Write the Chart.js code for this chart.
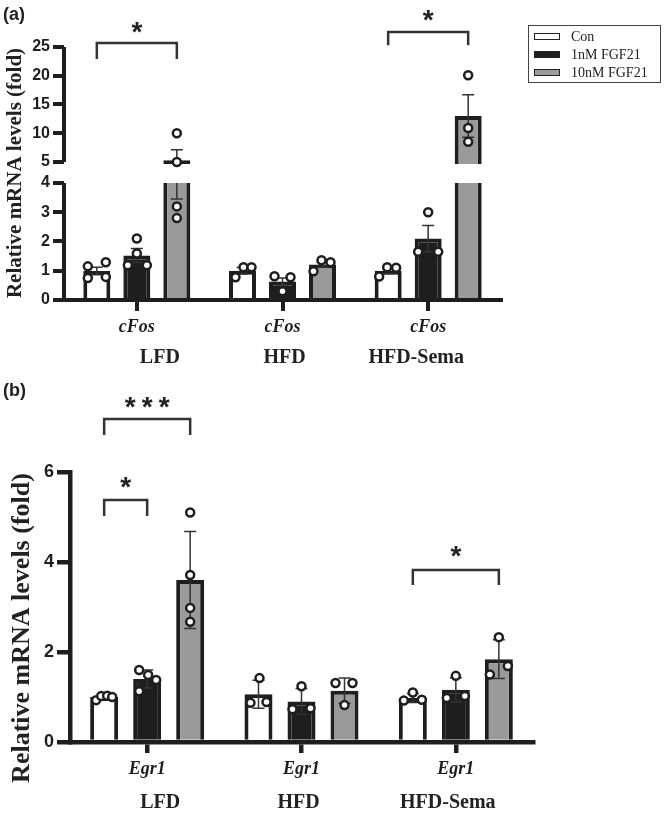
<!DOCTYPE html>
<html lang="en">
<head>
<meta charset="UTF-8">
<title>cFos / Egr1 mRNA levels</title>
<script src="https://cdn.jsdelivr.net/npm/chart.js@4.4.1/dist/chart.umd.min.js"></script>
<style>
  body { margin: 0; background: #fff; }
  .panel { position: absolute; left: 0; width: 664px; }
  #panelA { top: 0; height: 380px; }
  #panelB { top: 380px; height: 437px; }
  #legend {
    position: absolute; left: 528px; top: 25px; width: 133px; height: 58px;
    box-sizing: border-box; border: 1.5px solid #444; padding: 1.5px 0 0 5px;
    font: 14px "Liberation Serif", serif; color: #222;
  }
  #legend .item { height: 18px; display: flex; align-items: center; }
  #legend .sw { width: 26px; height: 7px; box-sizing: border-box; border: 1.3px solid #222; margin-right: 11px; }
</style>
</head>
<body>
<div class="panel" id="panelA"><canvas id="chartA"></canvas></div>
<div class="panel" id="panelB"><canvas id="chartB"></canvas></div>
<div id="legend">
  <div class="item"><span class="sw" style="background:#fff"></span>Con</div>
  <div class="item"><span class="sw" style="background:#1e1e1e"></span>1nM FGF21</div>
  <div class="item"><span class="sw" style="background:#9a9a9a"></span>10nM FGF21</div>
</div>
<script>
// groups and treatments
const groups = ['LFD', 'HFD', 'HFD-Sema'];
const seriesNames = ['Con', '1nM FGF21', '10nM FGF21'];

// (a) cFos, mean +/- SEM
const cfosCon = [0.99, 1.0, 1.0];
const cfos1nM = [1.52, 0.63, 2.1];
const cfos10nM = [5.3, 1.21, 13.0];
const cfosConErr = [0.13, 0.11, 0.1];
const cfos1nMErr = [0.24, 0.12, 0.45];
const cfos10nMErr = [1.85, 0.08, 3.7];
const cfosConPts = [[0.75, 0.79, 1.15, 1.29], [0.78, 1.12, 1.12], [0.8, 1.12, 1.1]];
const cfos1nMPts = [[1.19, 1.19, 1.59, 2.1], [0.81, 0.78, 0.3], [1.65, 3.0, 1.65]];
const cfos10nMPts = [[2.8, 3.2, 5.0, 10.0], [0.98, 1.36, 1.29], [8.5, 10.9, 20.1]];
const cfosTicks = [0, 1, 2, 3, 4, 5, 10, 15, 20, 25];

// (b) Egr1, mean +/- SD
const egr1Con = [1.0, 1.06, 0.98];
const egr11nM = [1.4, 0.9, 1.16];
const egr110nM = [3.6, 1.14, 1.84];
const egr1ConErr = [0.05, 0.31, 0.1];
const egr11nMErr = [0.2, 0.29, 0.27];
const egr110nMErr = [1.08, 0.28, 0.43];
const egr1ConPts = [[0.93, 1.02, 1.03, 1.0], [1.42, 0.87, 0.89], [0.92, 1.1, 0.94]];
const egr11nMPts = [[1.6, 1.49, 1.38, 1.13], [1.24, 0.73, 0.75], [0.98, 1.47, 1.02]];
const egr110nMPts = [[5.1, 3.71, 2.98, 2.67], [1.31, 1.31, 0.82], [1.5, 2.33, 1.69]];
const egr1Ticks = [0, 2, 4, 6];

// significance brackets (series index from/to inside a group)
const cfosSig = [
  { group: 0, from: 0, to: 2, top: 25.7, leg: 22.9, text: '*', at: 28.8 },
  { group: 2, from: 0, to: 2, top: 27.6, leg: 25.3, text: '*', at: 30.9 }
];
const egr1Sig = [
  { group: 0, from: 0, to: 1, top: 5.38, leg: 5.02, text: '*', at: 5.82 },
  { group: 0, from: 0, to: 2, top: 7.18, leg: 6.82, text: '***', at: 7.6 },
  { group: 2, from: 0, to: 2, top: 3.82, leg: 3.49, text: '*', at: 4.29 }
];

// styling
const ink = '#1e1e1e';
const barFills = ['#ffffff', '#1e1e1e', '#9a9a9a'];
// horizontal spread of the dots, px
const cfosJitter = [
  [[-9, 9, -9, 9], [-7, 1, 9], [-9, -1, 8]],
  [[-9, 10, 0, 0], [-8, 8, 0], [-10, 0, 10]],
  [[0, 0, 0, 0], [-9, -1, 8], [0, 0, 0]]
];
const egr1Jitter = [
  [[-8, -3, 3, 8], [1, -8, 8], [-9, 0, 9]],
  [[-8, 1, 9, -8], [0, -9, 9], [-9, 0, 9]],
  [[0, 0, 0, 0], [-9, 8, 0], [-9, 0, 9]]
];

// y axis with a break between 4 and 5
const BRK = { lowMax: 4, highMin: 5, lowFrac: 0.4625, gapFrac: 0.083 };
class BrokenLinearScale extends Chart.LinearScale {
  _dec(v) {
    const hiFrac = 1 - BRK.lowFrac - BRK.gapFrac;
    if (v <= BRK.lowMax) return (v - this.min) / (BRK.lowMax - this.min) * BRK.lowFrac;
    if (v < BRK.highMin) return BRK.lowFrac + (v - BRK.lowMax) / (BRK.highMin - BRK.lowMax) * BRK.gapFrac;
    return BRK.lowFrac + BRK.gapFrac + (v - BRK.highMin) / (this.max - BRK.highMin) * hiFrac;
  }
  getPixelForValue(v) {
    if (v === null || v === undefined || isNaN(v)) return NaN;
    return this.getPixelForDecimal(this._dec(v));
  }
  getValueForPixel(p) {
    const d = this.getDecimalForPixel(p);
    const hiFrac = 1 - BRK.lowFrac - BRK.gapFrac;
    if (d <= BRK.lowFrac) return this.min + d / BRK.lowFrac * (BRK.lowMax - this.min);
    if (d < BRK.lowFrac + BRK.gapFrac) return BRK.lowMax + (d - BRK.lowFrac) / BRK.gapFrac * (BRK.highMin - BRK.lowMax);
    return BRK.highMin + (d - BRK.lowFrac - BRK.gapFrac) / hiFrac * (this.max - BRK.highMin);
  }
}
BrokenLinearScale.id = 'brokenLinear';
BrokenLinearScale.defaults = Chart.LinearScale.defaults;
Chart.register(BrokenLinearScale);

function makePanel(cfg) {
  const datasets = seriesNames.map((name, s) => ({
    label: name,
    data: cfg.means[s],
    backgroundColor: barFills[s],
    borderColor: ink,
    borderWidth: cfg.barBorder,
    categoryPercentage: cfg.catPct,
    barPercentage: cfg.barPct
  }));

  const extras = {
    id: 'extras',
    afterDatasetsDraw(chart) {
      const ctx = chart.ctx, y = chart.scales.y, area = chart.chartArea;
      ctx.save();
      // error bars
      ctx.strokeStyle = '#333';
      ctx.lineWidth = 1.5;
      for (let s = 0; s < 3; s++) {
        chart.getDatasetMeta(s).data.forEach((bar, g) => {
          const m = cfg.means[s][g], e = cfg.errs[s][g];
          const yt = y.getPixelForValue(m + e), yb = y.getPixelForValue(m - e);
          ctx.beginPath();
          ctx.moveTo(bar.x, yt); ctx.lineTo(bar.x, yb);
          ctx.moveTo(bar.x - 6, yt); ctx.lineTo(bar.x + 6, yt);
          ctx.moveTo(bar.x - 6, yb); ctx.lineTo(bar.x + 6, yb);
          ctx.stroke();
        });
      }
      // white gap for the broken axis
      if (cfg.broken) {
        const yA = y.getPixelForValue(BRK.lowMax), yB = y.getPixelForValue(BRK.highMin) + 2;
        ctx.fillStyle = '#fff';
        ctx.fillRect(area.left, yB, area.right - area.left + 2, yA - yB);
      }
      // individual values
      ctx.lineWidth = 2.5;
      ctx.strokeStyle = ink;
      ctx.fillStyle = '#fff';
      for (let s = 0; s < 3; s++) {
        chart.getDatasetMeta(s).data.forEach((bar, g) => {
          cfg.pts[s][g].forEach((v, k) => {
            ctx.beginPath();
            ctx.arc(bar.x + cfg.jitter[s][g][k], y.getPixelForValue(v), 4, 0, Math.PI * 2);
            ctx.fill();
            ctx.stroke();
          });
        });
      }
      ctx.restore();
    },
    afterDraw(chart) {
      const ctx = chart.ctx, y = chart.scales.y, x = chart.scales.x, area = chart.chartArea;
      ctx.save();
      // broken y axis line
      if (cfg.broken) {
        ctx.strokeStyle = ink;
        ctx.lineWidth = cfg.axisWidth;
        ctx.beginPath();
        ctx.moveTo(area.left, y.getPixelForValue(0) + 2);
        ctx.lineTo(area.left, y.getPixelForValue(BRK.lowMax));
        ctx.moveTo(area.left, y.getPixelForValue(BRK.highMin));
        ctx.lineTo(area.left, y.getPixelForValue(y.max));
        ctx.stroke();
      }
      // significance brackets
      ctx.strokeStyle = '#333';
      ctx.lineWidth = 2.5;
      ctx.fillStyle = '#222';
      ctx.textAlign = 'center';
      ctx.textBaseline = 'alphabetic';
      ctx.font = 'bold 28px "Liberation Sans", sans-serif';
      cfg.sig.forEach(b => {
        const x1 = chart.getDatasetMeta(b.from).data[b.group].x;
        const x2 = chart.getDatasetMeta(b.to).data[b.group].x;
        const yt = y.getPixelForValue(b.top), yl = y.getPixelForValue(b.leg);
        ctx.beginPath();
        ctx.moveTo(x1, yl); ctx.lineTo(x1, yt); ctx.lineTo(x2, yt); ctx.lineTo(x2, yl);
        ctx.stroke();
        const ys = y.getPixelForValue(b.at) + 16;
        const n = b.text.length;
        for (let i = 0; i < n; i++) {
          ctx.fillText('*', (x1 + x2) / 2 + (i - (n - 1) / 2) * 17, ys);
        }
      });
      // group labels under the gene names
      ctx.font = 'bold 20px "Liberation Serif", serif';
      ctx.textBaseline = 'middle';
      groups.forEach((gName, g) => {
        ctx.fillText(gName, x.getPixelForValue(g) + cfg.groupShift[g], cfg.groupY);
      });
      // y title
      ctx.save();
      ctx.translate(cfg.titleX, cfg.titleY);
      ctx.rotate(-Math.PI / 2);
      ctx.font = 'bold ' + cfg.titleSize + 'px "Liberation Serif", serif';
      ctx.fillText('Relative mRNA levels (fold)', 0, 0);
      ctx.restore();
      // panel letter
      ctx.textAlign = 'left';
      ctx.font = 'bold 18px "Liberation Sans", sans-serif';
      ctx.fillText(cfg.letter, 3, cfg.letterY);
      ctx.restore();
    }
  };

  return new Chart(document.getElementById(cfg.canvas), {
    type: 'bar',
    data: { labels: groups.map(() => cfg.gene), datasets },
    options: {
      responsive: true,
      maintainAspectRatio: false,
      animation: false,
      layout: { padding: cfg.padding },
      plugins: { legend: { display: false }, tooltip: { enabled: false } },
      scales: {
        x: {
          offset: true,
          grid: { display: true, drawOnChartArea: false, drawTicks: true, offset: false,
                  tickLength: 11, lineWidth: cfg.axisWidth, tickWidth: cfg.axisWidth, color: ink, tickColor: ink },
          border: { display: true, width: cfg.axisWidth, color: ink, z: 1 },
          ticks: { color: ink, padding: 6,
                   font: { family: '"Liberation Serif", serif', size: 18, style: 'italic', weight: 'bold' } },
          afterFit: s => { s.height = 40; }
        },
        y: {
          type: cfg.yType,
          min: 0,
          max: cfg.yMax,
          afterBuildTicks: s => { s.ticks = cfg.ticks.map(v => ({ value: v })); },
          grid: { display: true, drawOnChartArea: false, drawTicks: true,
                  tickLength: cfg.yTickLen, lineWidth: cfg.axisWidth, tickWidth: cfg.axisWidth, color: ink, tickColor: ink },
          border: { display: !cfg.broken, width: cfg.axisWidth, color: ink },
          ticks: { color: ink, padding: 3, callback: v => String(v),
                   font: { family: '"Liberation Sans", sans-serif', size: cfg.tickSize, weight: 'bold' } },
          afterFit: s => { s.width = cfg.yWidth; }
        }
      }
    },
    plugins: [extras]
  });
}

makePanel({
  canvas: 'chartA', gene: 'cFos', broken: true, yType: 'brokenLinear', yMax: 25, ticks: cfosTicks,
  means: [cfosCon, cfos1nM, cfos10nM], errs: [cfosConErr, cfos1nMErr, cfos10nMErr],
  pts: [cfosConPts, cfos1nMPts, cfos10nMPts], jitter: cfosJitter, sig: cfosSig,
  padding: { top: 47, left: 0, right: 163, bottom: 40 }, yWidth: 64, yTickLen: 11, tickSize: 16,
  catPct: 0.824, barPct: 0.675, barBorder: 4, axisWidth: 4,
  groupShift: [23, 2, -12], groupY: 358, titleX: 16, titleY: 173, titleSize: 21, letter: '(a)', letterY: 15
});

makePanel({
  canvas: 'chartB', gene: 'Egr1', broken: false, yType: 'linear', yMax: 6, ticks: egr1Ticks,
  means: [egr1Con, egr11nM, egr110nM], errs: [egr1ConErr, egr11nMErr, egr110nMErr],
  pts: [egr1ConPts, egr11nMPts, egr110nMPts], jitter: egr1Jitter, sig: egr1Sig,
  padding: { top: 92, left: 0, right: 131, bottom: 35 }, yWidth: 70, yTickLen: 13, tickSize: 18,
  catPct: 0.836, barPct: 0.651, barBorder: 4, axisWidth: 4.5,
  groupShift: [13, -3, -8], groupY: 423, titleX: 22, titleY: 248, titleSize: 26, letter: '(b)', letterY: 11
});
</script>
</body>
</html>
